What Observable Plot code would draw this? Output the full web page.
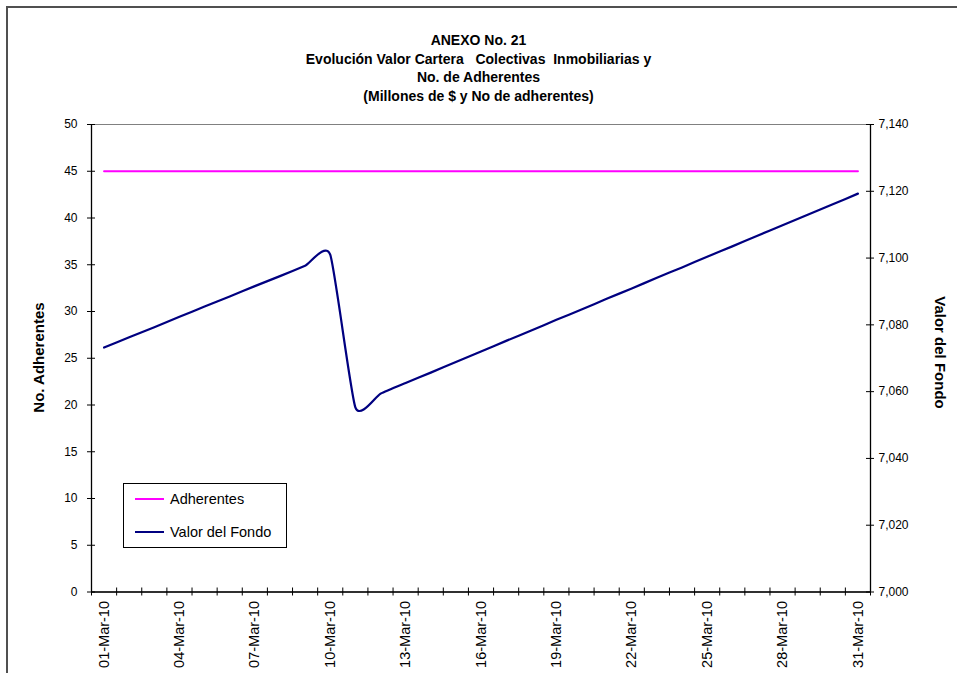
<!DOCTYPE html>
<html>
<head>
<meta charset="utf-8">
<script src="https://cdn.jsdelivr.net/npm/d3@7"></script>
<script src="https://cdn.jsdelivr.net/npm/@observablehq/plot@0.6"></script>
<style>
  html, body { margin: 0; padding: 0; background: #fff; }
  #wrap { position: relative; width: 957px; height: 673px; overflow: hidden; background: #fff;
          font-family: "Liberation Sans", Arial, sans-serif; color: #000; }
  #frame { position: absolute; left: 6px; top: 6px; width: 1000px; height: 1000px;
           border: 2px solid #505050; box-sizing: border-box; pointer-events: none; }
  #title { height: 110px; box-sizing: border-box; padding-top: 31px; text-align: center;
           font-weight: bold; font-size: 14px; line-height: 18.5px; white-space: pre; }
  .axtitle { position: absolute; font-weight: bold; font-size: 15px; white-space: nowrap;
             transform-origin: center center; }
  #legend { position: absolute; left: 123px; top: 483px; width: 164px; height: 65px;
            border: 1px solid #000; box-sizing: border-box; font-size: 14.5px; background: #fff; }
  .lg { position: absolute; left: 11px; height: 16px; display: flex; align-items: center; white-space: nowrap; }
  .lg span.sw { display: inline-block; width: 29px; height: 2px; margin-right: 6px; }
</style>
</head>
<body>
<div id="wrap">
  <div id="title"><div>ANEXO No. 21</div><div>Evolución Valor Cartera   Colectivas  Inmobiliarias y</div><div>No. de Adherentes</div><div>(Millones de $ y No de adherentes)</div></div>
  <div id="chart"></div>
  <div id="frame"></div>
</div>
<script>
// ---- data ----
const dias = [1,2,3,4,5,6,7,8,9,10,11,12,13,14,15,16,17,18,19,20,21,22,23,24,25,26,27,28,29,30,31];
const fechas = ["01-Mar-10","02-Mar-10","03-Mar-10","04-Mar-10","05-Mar-10","06-Mar-10","07-Mar-10","08-Mar-10","09-Mar-10","10-Mar-10","11-Mar-10","12-Mar-10","13-Mar-10","14-Mar-10","15-Mar-10","16-Mar-10","17-Mar-10","18-Mar-10","19-Mar-10","20-Mar-10","21-Mar-10","22-Mar-10","23-Mar-10","24-Mar-10","25-Mar-10","26-Mar-10","27-Mar-10","28-Mar-10","29-Mar-10","30-Mar-10","31-Mar-10"];
const adherentes = [45,45,45,45,45,45,45,45,45,45,45,45,45,45,45,45,45,45,45,45,45,45,45,45,45,45,45,45,45,45,45];
const valorFondo = [7073.2,7076.3,7079.3,7082.4,7085.5,7088.5,7091.6,7094.6,7097.7,7101.0,
                    7055.3,7059.4,7062.6,7065.7,7068.9,7072.0,7075.2,7078.3,7081.5,7084.6,
                    7087.8,7090.9,7094.1,7097.2,7100.4,7103.5,7106.7,7109.8,7113.0,7116.1,7119.3];
const xLabelDays = [1,4,7,10,13,16,19,22,25,28,31];
const leftTicks = [0,5,10,15,20,25,30,35,40,45,50];
const rightTicks = [7000,7020,7040,7060,7080,7100,7120,7140];
const leftDomain = [0, 50];
const rightDomain = [7000, 7140];
const xDomain = [0.5, 31.5];
const xBoundaries = [0.5,1.5,2.5,3.5,4.5,5.5,6.5,7.5,8.5,9.5,10.5,11.5,12.5,13.5,14.5,15.5,16.5,17.5,18.5,19.5,20.5,21.5,22.5,23.5,24.5,25.5,26.5,27.5,28.5,29.5,30.5,31.5];

// ---- layout ----
const W = 957, H = 563;
const mL = 91, mR = 87, mT = 14, mB = 81.5;
const PW = W - mL - mR, PH = H - mT - mB;

const toLeft = v => leftDomain[0] + (v - rightDomain[0]) * (leftDomain[1] - leftDomain[0]) / (rightDomain[1] - rightDomain[0]);
const toRight = u => rightDomain[0] + (u - leftDomain[0]) * (rightDomain[1] - rightDomain[0]) / (leftDomain[1] - leftDomain[0]);

const adhData = dias.map((d, i) => ({dia: d, v: adherentes[i]}));
const fondoData = dias.map((d, i) => ({dia: d, v: toLeft(valorFondo[i])}));
const labelMap = new Map(dias.map((d, i) => [d, fechas[i]]));

const chart = Plot.plot({
  width: W, height: H,
  marginLeft: mL, marginRight: mR, marginTop: mT, marginBottom: mB,
  style: {fontFamily: '"Liberation Sans", Arial, sans-serif', fontSize: "12px", color: "#000", background: "transparent", overflow: "visible"},
  x: {type: "linear", domain: xDomain},
  y: {type: "linear", domain: leftDomain},
  marks: [
    Plot.frame({stroke: "#808080", strokeWidth: 1}),
    Plot.axisY({ticks: leftTicks, tickSize: 0, tickPadding: 14, anchor: "left", label: null, fontSize: 12}),
    Plot.axisY({ticks: rightTicks.map(toLeft), tickSize: 0, tickPadding: 8, anchor: "right", label: null,
                tickFormat: u => d3.format(",")(Math.round(toRight(u))), fontSize: 12}),
    Plot.axisX({ticks: xLabelDays, tickSize: 0, tickPadding: 9, tickRotate: -90, anchor: "bottom", label: null,
                tickFormat: d => labelMap.get(d), fontSize: 14.5}),
    Plot.tickY(leftTicks, {y: d => d, stroke: "#000", insetLeft: -4, insetRight: PW - 4}),
    Plot.tickY(rightTicks.map(toLeft), {y: d => d, stroke: "#000", insetLeft: PW - 4, insetRight: -4}),
    Plot.tickX(xBoundaries, {x: d => d, stroke: "#000", insetTop: PH - 4, insetBottom: -4}),
    Plot.ruleX(xDomain, {stroke: "#000", strokeWidth: 1.3}),
    Plot.ruleY([leftDomain[0]], {stroke: "#000", strokeWidth: 1.3}),
    Plot.line(adhData, {x: "dia", y: "v", stroke: "#FF00FF", strokeWidth: 2}),
    Plot.line(fondoData, {x: "dia", y: "v", stroke: "#000080", strokeWidth: 2.2, curve: "cardinal", tension: 0.45})
  ]
});
document.getElementById("chart").appendChild(chart);

const wrap = document.getElementById("wrap");
function axTitle(text, cx, cy, rot) {
  const d = document.createElement("div");
  d.className = "axtitle";
  d.textContent = text;
  wrap.appendChild(d);
  const r = d.getBoundingClientRect();
  d.style.left = (cx - r.width / 2) + "px";
  d.style.top = (cy - r.height / 2) + "px";
  d.style.transform = `rotate(${rot}deg)`;
}
axTitle("No. Adherentes", 38, 357, -90);
axTitle("Valor del Fondo", 940, 352, 90);

const lg = document.createElement("div");
lg.id = "legend";
lg.innerHTML = `<div class="lg" style="top:7px"><span class="sw" style="background:#FF00FF"></span>Adherentes</div>
<div class="lg" style="top:40px"><span class="sw" style="background:#000080"></span>Valor del Fondo</div>`;
wrap.appendChild(lg);
</script>
</body>
</html>
